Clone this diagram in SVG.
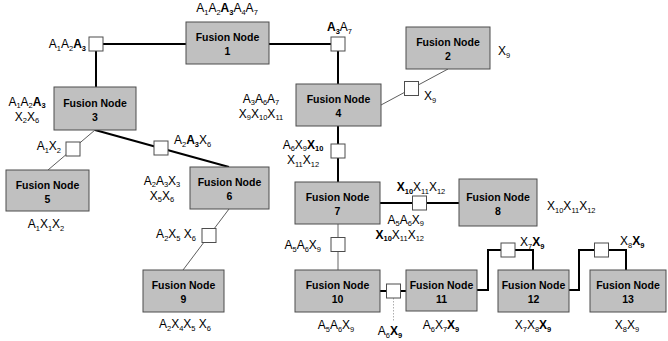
<svg xmlns="http://www.w3.org/2000/svg" width="668" height="341" viewBox="0 0 668 341">
<style>
text{font-family:"Liberation Sans",Arial,Helvetica,sans-serif;fill:#000}
.l{font-size:12px}
.s{font-size:7.5px}
.b{font-weight:bold}
.nt{font-size:10.5px;font-weight:bold;text-anchor:middle}
.m{text-anchor:middle}
.e{text-anchor:end}
.box{fill:#c0c0c0;stroke:#4d4d4d;stroke-width:1}
.sq{fill:#fff;stroke:#4d4d4d;stroke-width:1}
.thick{stroke:#000;stroke-width:2;fill:none}
.thin{stroke:#333;stroke-width:0.8;fill:none}
.grey{stroke:#999;stroke-width:1.5;fill:none}
.dot{stroke:#999;stroke-width:0.8;stroke-dasharray:1.5,1.5;fill:none}
</style>
<g id="connectors">
<path class="thick" d="M96,87 V44 H186"/>
<path class="thick" d="M269,44 H338 V84"/>
<path class="thin" d="M381,105 L448,69"/>
<path class="thick" d="M338,126 V182"/>
<path class="thin" d="M95,130 L48,170"/>
<path class="thick" d="M95,130 L229,167"/>
<path class="thin" d="M229,209 L183,270"/>
<path class="grey" d="M338,224 V270"/>
<path class="thick" d="M380,203 H459"/>
<path class="thick" d="M380,291 H406"/>
<path class="dot" d="M393.5,298 V322"/>
<path class="thick" d="M477,290 H488 V250 H533 V270"/>
<path class="thick" d="M569,290 H579 V250 H626 V270"/>
</g>
<g id="separators">
<rect class="sq" x="89" y="37" width="14" height="14"/>
<rect class="sq" x="331" y="37" width="14" height="14"/>
<rect class="sq" x="404.5" y="81.5" width="14" height="14"/>
<rect class="sq" x="331" y="144" width="14" height="14"/>
<rect class="sq" x="66" y="142" width="14" height="14"/>
<rect class="sq" x="154" y="141" width="14" height="14"/>
<rect class="sq" x="202" y="228.5" width="14" height="14"/>
<rect class="sq" x="331" y="237.5" width="14" height="14"/>
<rect class="sq" x="412.5" y="196" width="14" height="14"/>
<rect class="sq" x="386.5" y="284" width="14" height="14"/>
<rect class="sq" x="501" y="243" width="14" height="14"/>
<rect class="sq" x="594.5" y="243" width="14" height="14"/>
</g>
<g id="n1"><rect class="box" x="186" y="22" width="83" height="42"/><text class="nt" x="227.5" y="41">Fusion Node</text><text class="nt" x="227.5" y="55">1</text></g>
<g id="n2"><rect class="box" x="406" y="27" width="84" height="42"/><text class="nt" x="448" y="46">Fusion Node</text><text class="nt" x="448" y="60">2</text></g>
<g id="n3"><rect class="box" x="54" y="87" width="82" height="43"/><text class="nt" x="95" y="106.5">Fusion Node</text><text class="nt" x="95" y="120.5">3</text></g>
<g id="n4"><rect class="box" x="296" y="84" width="85" height="42"/><text class="nt" x="338.5" y="103">Fusion Node</text><text class="nt" x="338.5" y="117">4</text></g>
<g id="n5"><rect class="box" x="6" y="170" width="83" height="41"/><text class="nt" x="47.5" y="188.5">Fusion Node</text><text class="nt" x="47.5" y="202.5">5</text></g>
<g id="n6"><rect class="box" x="190" y="167" width="79" height="42"/><text class="nt" x="229.5" y="186">Fusion Node</text><text class="nt" x="229.5" y="200">6</text></g>
<g id="n7"><rect class="box" x="295" y="182" width="85" height="42"/><text class="nt" x="337.5" y="201">Fusion Node</text><text class="nt" x="337.5" y="215">7</text></g>
<g id="n8"><rect class="box" x="459" y="179" width="78" height="47"/><text class="nt" x="498" y="200.5">Fusion Node</text><text class="nt" x="498" y="214.5">8</text></g>
<g id="n9"><rect class="box" x="143" y="270" width="81" height="42"/><text class="nt" x="183.5" y="289">Fusion Node</text><text class="nt" x="183.5" y="303">9</text></g>
<g id="n10"><rect class="box" x="295" y="270" width="85" height="42"/><text class="nt" x="337.5" y="289">Fusion Node</text><text class="nt" x="337.5" y="303">10</text></g>
<g id="n11"><rect class="box" x="406" y="270" width="71" height="41"/><text class="nt" x="441.5" y="288.5">Fusion Node</text><text class="nt" x="441.5" y="302.5">11</text></g>
<g id="n12"><rect class="box" x="498" y="270" width="71" height="42"/><text class="nt" x="533.5" y="289">Fusion Node</text><text class="nt" x="533.5" y="303">12</text></g>
<g id="n13"><rect class="box" x="590" y="270" width="76" height="42"/><text class="nt" x="628" y="289">Fusion Node</text><text class="nt" x="628" y="303">13</text></g>
<g id="labels">
<text class="l m" x="227" y="12">A<tspan class="s" dy="2.5">1</tspan><tspan dy="-2.5">A</tspan><tspan class="s" dy="2.5">2</tspan><tspan class="b" dy="-2.5">A</tspan><tspan class="s b" dy="2.5">3</tspan><tspan dy="-2.5">A</tspan><tspan class="s" dy="2.5">4</tspan><tspan dy="-2.5">A</tspan><tspan class="s" dy="2.5">7</tspan></text>
<text class="l e" x="86" y="48">A<tspan class="s" dy="2.5">1</tspan><tspan dy="-2.5">A</tspan><tspan class="s" dy="2.5">2</tspan><tspan class="b" dy="-2.5">A</tspan><tspan class="s b" dy="2.5">3</tspan></text>
<text class="l" x="327" y="31"><tspan class="b">A</tspan><tspan class="s b" dy="2.5">3</tspan><tspan dy="-2.5">A</tspan><tspan class="s" dy="2.5">7</tspan></text>
<text class="l m" x="27" y="105.5">A<tspan class="s" dy="2.5">1</tspan><tspan dy="-2.5">A</tspan><tspan class="s" dy="2.5">2</tspan><tspan class="b" dy="-2.5">A</tspan><tspan class="s b" dy="2.5">3</tspan></text>
<text class="l m" x="27" y="120.5">X<tspan class="s" dy="2.5">2</tspan><tspan dy="-2.5">X</tspan><tspan class="s" dy="2.5">6</tspan></text>
<text class="l m" x="261" y="102.5">A<tspan class="s" dy="2.5">3</tspan><tspan dy="-2.5">A</tspan><tspan class="s" dy="2.5">6</tspan><tspan dy="-2.5">A</tspan><tspan class="s" dy="2.5">7</tspan></text>
<text class="l m" x="261" y="117.5">X<tspan class="s" dy="2.5">9</tspan><tspan dy="-2.5">X</tspan><tspan class="s" dy="2.5">10</tspan><tspan dy="-2.5">X</tspan><tspan class="s" dy="2.5">11</tspan></text>
<text class="l" x="498" y="55">X<tspan class="s" dy="2.5">9</tspan></text>
<text class="l" x="424" y="100">X<tspan class="s" dy="2.5">9</tspan></text>
<text class="l e" x="61" y="150">A<tspan class="s" dy="2.5">1</tspan><tspan dy="-2.5">X</tspan><tspan class="s" dy="2.5">2</tspan></text>
<text class="l" x="174" y="144">A<tspan class="s" dy="2.5">2</tspan><tspan class="b" dy="-2.5">A</tspan><tspan class="s b" dy="2.5">3</tspan><tspan dy="-2.5">X</tspan><tspan class="s" dy="2.5">6</tspan></text>
<text class="l m" x="162" y="184.5">A<tspan class="s" dy="2.5">2</tspan><tspan dy="-2.5">A</tspan><tspan class="s" dy="2.5">3</tspan><tspan dy="-2.5">X</tspan><tspan class="s" dy="2.5">3</tspan></text>
<text class="l m" x="162" y="199.5">X<tspan class="s" dy="2.5">5</tspan><tspan dy="-2.5">X</tspan><tspan class="s" dy="2.5">6</tspan></text>
<text class="l m" x="46" y="228">A<tspan class="s" dy="2.5">1</tspan><tspan dy="-2.5">X</tspan><tspan class="s" dy="2.5">1</tspan><tspan dy="-2.5">X</tspan><tspan class="s" dy="2.5">2</tspan></text>
<text class="l m" x="303" y="148.5">A<tspan class="s" dy="2.5">6</tspan><tspan dy="-2.5">X</tspan><tspan class="s" dy="2.5">9</tspan><tspan class="b" dy="-2.5">X</tspan><tspan class="s b" dy="2.5">10</tspan></text>
<text class="l m" x="303" y="164">X<tspan class="s" dy="2.5">11</tspan><tspan dy="-2.5">X</tspan><tspan class="s" dy="2.5">12</tspan></text>
<text class="l m" x="421" y="191"><tspan class="b">X</tspan><tspan class="s b" dy="2.5">10</tspan><tspan dy="-2.5">X</tspan><tspan class="s" dy="2.5">11</tspan><tspan dy="-2.5">X</tspan><tspan class="s" dy="2.5">12</tspan></text>
<text class="l e" x="424" y="223.5">A<tspan class="s" dy="2.5">5</tspan><tspan dy="-2.5">A</tspan><tspan class="s" dy="2.5">6</tspan><tspan dy="-2.5">X</tspan><tspan class="s" dy="2.5">9</tspan></text>
<text class="l e" x="424" y="238.5"><tspan class="b">X</tspan><tspan class="s b" dy="2.5">10</tspan><tspan dy="-2.5">X</tspan><tspan class="s" dy="2.5">11</tspan><tspan dy="-2.5">X</tspan><tspan class="s" dy="2.5">12</tspan></text>
<text class="l" x="547" y="210">X<tspan class="s" dy="2.5">10</tspan><tspan dy="-2.5">X</tspan><tspan class="s" dy="2.5">11</tspan><tspan dy="-2.5">X</tspan><tspan class="s" dy="2.5">12</tspan></text>
<text class="l e" x="196" y="238">A<tspan class="s" dy="2.5">2</tspan><tspan dy="-2.5">X</tspan><tspan class="s" dy="2.5">5</tspan><tspan dy="-2.5"> X</tspan><tspan class="s" dy="2.5">6</tspan></text>
<text class="l m" x="185" y="328">A<tspan class="s" dy="2.5">2</tspan><tspan dy="-2.5">X</tspan><tspan class="s" dy="2.5">4</tspan><tspan dy="-2.5">X</tspan><tspan class="s" dy="2.5">5</tspan><tspan dy="-2.5"> X</tspan><tspan class="s" dy="2.5">6</tspan></text>
<text class="l e" x="321" y="249">A<tspan class="s" dy="2.5">5</tspan><tspan dy="-2.5">A</tspan><tspan class="s" dy="2.5">6</tspan><tspan dy="-2.5">X</tspan><tspan class="s" dy="2.5">9</tspan></text>
<text class="l m" x="336" y="329">A<tspan class="s" dy="2.5">5</tspan><tspan dy="-2.5">A</tspan><tspan class="s" dy="2.5">6</tspan><tspan dy="-2.5">X</tspan><tspan class="s" dy="2.5">9</tspan></text>
<text class="l m" x="390" y="335">A<tspan class="s" dy="2.5">6</tspan><tspan class="b" dy="-2.5">X</tspan><tspan class="s b" dy="2.5">9</tspan></text>
<text class="l m" x="441" y="329">A<tspan class="s" dy="2.5">6</tspan><tspan dy="-2.5">X</tspan><tspan class="s" dy="2.5">7</tspan><tspan class="b" dy="-2.5">X</tspan><tspan class="s b" dy="2.5">9</tspan></text>
<text class="l" x="520" y="246">X<tspan class="s" dy="2.5">7</tspan><tspan class="b" dy="-2.5">X</tspan><tspan class="s b" dy="2.5">9</tspan></text>
<text class="l m" x="533" y="329">X<tspan class="s" dy="2.5">7</tspan><tspan dy="-2.5">X</tspan><tspan class="s" dy="2.5">8</tspan><tspan class="b" dy="-2.5">X</tspan><tspan class="s b" dy="2.5">9</tspan></text>
<text class="l" x="620" y="245">X<tspan class="s" dy="2.5">8</tspan><tspan class="b" dy="-2.5">X</tspan><tspan class="s b" dy="2.5">9</tspan></text>
<text class="l m" x="627" y="329">X<tspan class="s" dy="2.5">8</tspan><tspan dy="-2.5">X</tspan><tspan class="s" dy="2.5">9</tspan></text>
</g>
</svg>
